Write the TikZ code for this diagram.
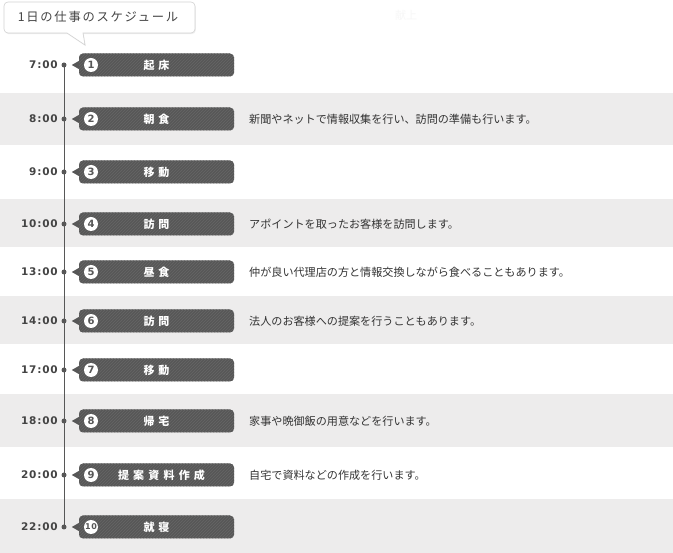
\documentclass[tikz,border=0pt]{standalone}
\usepackage{fontspec}
\setmainfont{Noto Sans CJK JP}
\newfontfamily\jpfont{Noto Sans CJK JP}
\newfontfamily\jpwide[LetterSpace=14]{Noto Sans CJK JP}
\newfontfamily\jppill[LetterSpace=38]{Noto Sans CJK JP}
\newfontfamily\timefont[LetterSpace=8]{DejaVu Sans}
\usetikzlibrary{patterns,shadows}
\definecolor{pillgray}{HTML}{575757}
\definecolor{stripegray}{HTML}{666666}
\definecolor{bandgray}{HTML}{EDECEC}
\definecolor{inkgray}{HTML}{333333}
\definecolor{timegray}{HTML}{444444}
\tikzset{x=1pt, y=-1pt,
  band/.style={fill=bandgray},
  timeline/.style={draw=pillgray, line width=1pt},
  dot/.style={circle, fill=pillgray, minimum size=5pt, inner sep=0pt},
  clock/.style={anchor=east, inner sep=0pt, text=timegray, font=\timefont\bfseries\fontsize{10.5}{12}\selectfont},
  pill/.style={fill=pillgray, rounded corners=4pt, minimum width=155pt, minimum height=23pt,
    text=white, font=\jppill\bfseries\fontsize{11}{13}\selectfont,
    postaction={pattern=north east lines, pattern color=stripegray}},
  num/.style={circle, fill=white, minimum size=14pt, inner sep=0pt, text=pillgray,
    font=\timefont\bfseries\fontsize{10}{11}\selectfont},
  desc/.style={anchor=west, inner sep=0pt, text=inkgray, font=\jpfont\fontsize{11.1}{13}\selectfont},
  callbox/.style={draw=gray!35, fill=white, line width=0.6pt,
    drop shadow={opacity=0.12, shadow xshift=0.8pt, shadow yshift=-1.2pt}},
}
\begin{document}
\begin{tikzpicture}
  \useasboundingbox (0,0) rectangle (673,553);
  \fill[white] (0,0) rectangle (673,553);
  \fill[band] (0,93) rectangle (673,145);
  \fill[band] (0,199) rectangle (673,247);
  \fill[band] (0,296) rectangle (673,344);
  \fill[band] (0,394) rectangle (673,447);
  \fill[band] (0,499) rectangle (673,553);

  \draw[callbox] (67,33) [rounded corners=4pt] -- (4,33) -- (4,2) -- (195,2) -- (195,33) [sharp corners] -- (83,33) -- (85,45) -- cycle;
  \node[text=timegray, font=\jpwide\fontsize{12.3}{14}\selectfont] (title) at (98,17) {1日の仕事のスケジュール};
  \node[text=gray!6, font=\jpfont\fontsize{11}{13}\selectfont] (mark) at (406,15) {献上};

  \node[dot] (d1) at (64,65) {};
  \node[dot] (d2) at (64,119) {};
  \node[dot] (d3) at (64,172) {};
  \node[dot] (d4) at (64,224) {};
  \node[dot] (d5) at (64,272) {};
  \node[dot] (d6) at (64,321) {};
  \node[dot] (d7) at (64,370) {};
  \node[dot] (d8) at (64,421) {};
  \node[dot] (d9) at (64,475) {};
  \node[dot] (d10) at (64,527) {};
  \draw[timeline] (d1.center) -- (d10.center);

  \node[clock] (t1) at (58,65) {7:00};
  \node[clock] (t2) at (58,119) {8:00};
  \node[clock] (t3) at (58,172) {9:00};
  \node[clock] (t4) at (58,224) {10:00};
  \node[clock] (t5) at (58,272) {13:00};
  \node[clock] (t6) at (58,321) {14:00};
  \node[clock] (t7) at (58,370) {17:00};
  \node[clock] (t8) at (58,421) {18:00};
  \node[clock] (t9) at (58,475) {20:00};
  \node[clock] (t10) at (58,527) {22:00};

  \node[pill] (p1) at (156.5,65) {起\hspace{4pt}床};
  \node[pill] (p2) at (156.5,119) {朝\hspace{4pt}食};
  \node[pill] (p3) at (156.5,172) {移\hspace{4pt}動};
  \node[pill] (p4) at (156.5,224) {訪\hspace{4pt}問};
  \node[pill] (p5) at (156.5,272) {昼\hspace{4pt}食};
  \node[pill] (p6) at (156.5,321) {訪\hspace{4pt}問};
  \node[pill] (p7) at (156.5,370) {移\hspace{4pt}動};
  \node[pill] (p8) at (156.5,421) {帰\hspace{4pt}宅};
  \node[pill] (p9) at (156.5,475) {\hspace{10pt}提案資料作成};
  \node[pill] (p10) at (156.5,527) {就\hspace{4pt}寝};
  \foreach \i in {1,...,10}
    \fill[pillgray] ([yshift=4pt]p\i.west) -- ([xshift=-7pt]p\i.west) -- ([yshift=-4pt]p\i.west) -- cycle;

  \node[num] (n1) at (91,65) {1};
  \node[num] (n2) at (91,119) {2};
  \node[num] (n3) at (91,172) {3};
  \node[num] (n4) at (91,224) {4};
  \node[num] (n5) at (91,272) {5};
  \node[num] (n6) at (91,321) {6};
  \node[num] (n7) at (91,370) {7};
  \node[num] (n8) at (91,421) {8};
  \node[num] (n9) at (91,475) {9};
  \node[num, font=\timefont\bfseries\fontsize{8}{9}\selectfont] (n10) at (91,527) {10};

  \node[desc] (s2) at (249,119) {新聞やネットで情報収集を行い、訪問の準備も行います。};
  \node[desc] (s4) at (249,224) {アポイントを取ったお客様を訪問します。};
  \node[desc] (s5) at (249,272) {仲が良い代理店の方と情報交換しながら食べることもあります。};
  \node[desc] (s6) at (249,321) {法人のお客様への提案を行うこともあります。};
  \node[desc] (s8) at (249,421) {家事や晩御飯の用意などを行います。};
  \node[desc] (s9) at (249,475) {自宅で資料などの作成を行います。};
\end{tikzpicture}
\end{document}
